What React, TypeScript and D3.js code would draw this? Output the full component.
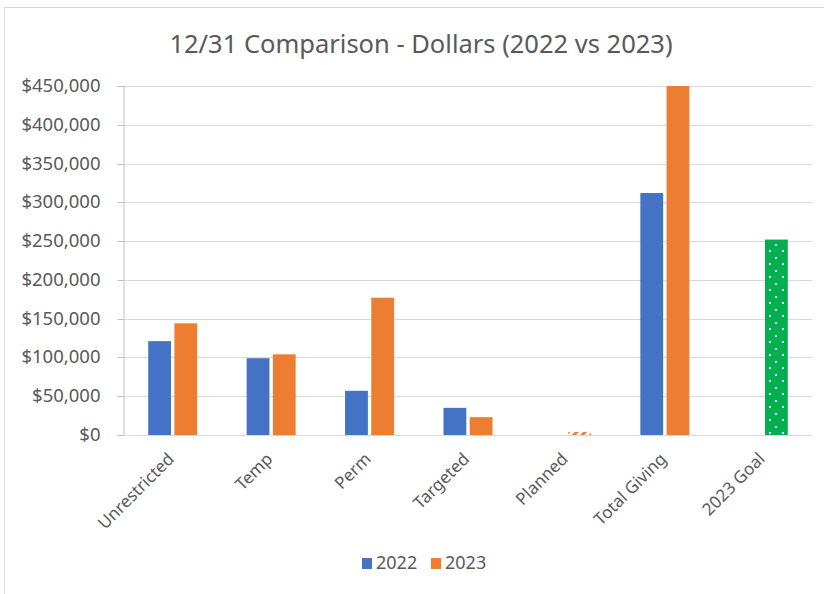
import * as d3 from "d3";
import { useEffect, useRef } from "react";

// data
const categories = ["Unrestricted", "Temp", "Perm", "Targeted", "Planned", "Total Giving", "2023 Goal"];
const values2022 = [121000, 99000, 57000, 35000, 0, 312000, 0];
const values2023 = [144000, 104000, 177000, 23000, 4000, 450000, 252000];
const seriesNames = ["2022", "2023"];
const yTicks = [0, 50000, 100000, 150000, 200000, 250000, 300000, 350000, 400000, 450000];

const App = () => {
    const chartRef = useRef<SVGSVGElement | null>(null);

    const width = 824;
    const height = 594;
    const margin = { top: 86, bottom: 159, left: 123, right: 12 };
    const boundsWidth = width - margin.left - margin.right;
    const boundsHeight = height - margin.top - margin.bottom;

    useEffect(() => {
        const svg = d3.select(chartRef.current);
        svg.selectAll("*").remove();

        const font = "'Noto Sans', 'Open Sans', sans-serif";
        const textColor = "#595959";
        const colors = ["#4472C4", "#ED7D31"];

        // patterns: hatched orange (Planned) and dotted green (goal)
        const defs = svg.append("defs");
        const hatch = defs.append("pattern")
            .attr("id", "hatch")
            .attr("patternUnits", "userSpaceOnUse")
            .attr("width", 6).attr("height", 6)
            .attr("patternTransform", "rotate(45)");
        hatch.append("rect").attr("width", 6).attr("height", 6).attr("fill", "#fff");
        hatch.append("rect").attr("width", 3).attr("height", 6).attr("fill", colors[1]);

        const dots = defs.append("pattern")
            .attr("id", "dots")
            .attr("patternUnits", "userSpaceOnUse")
            .attr("width", 13).attr("height", 13);
        dots.append("rect").attr("width", 13).attr("height", 13).attr("fill", "#00B050");
        dots.append("rect").attr("x", 2).attr("y", 2).attr("width", 2).attr("height", 2).attr("fill", "#fff");
        dots.append("rect").attr("x", 9).attr("y", 8).attr("width", 2).attr("height", 2).attr("fill", "#fff");

        // frame
        svg.append("rect").attr("width", width).attr("height", height).attr("fill", "#fff");
        svg.append("line").attr("x1", 4).attr("x2", width).attr("y1", 7.5).attr("y2", 7.5).attr("stroke", "#d9d9d9");
        svg.append("line").attr("x1", 4.5).attr("x2", 4.5).attr("y1", 7).attr("y2", height).attr("stroke", "#d9d9d9");

        // title
        svg.append("text")
            .attr("x", 421).attr("y", 53)
            .attr("text-anchor", "middle")
            .style("font-family", font)
            .style("font-size", "25.5px")
            .style("fill", textColor)
            .text("12/31 Comparison - Dollars (2022 vs 2023)");

        const scaleX = d3.scaleBand().domain(categories).range([0, boundsWidth]);
        const scaleY = d3.scaleLinear().domain([0, 450000]).range([boundsHeight, 0]);
        const inner = d3.scaleBand().domain(seriesNames).range([scaleX.bandwidth() / 2 - 24, scaleX.bandwidth() / 2 + 25]).paddingInner(0.13);

        const g = svg.append("g").attr("transform", `translate(${margin.left},${margin.top})`);

        // grid
        g.selectAll(".grid").data(yTicks).enter().append("line")
            .attr("x1", 0).attr("x2", boundsWidth)
            .attr("y1", d => Math.round(scaleY(d)) + 0.5).attr("y2", d => Math.round(scaleY(d)) + 0.5)
            .attr("stroke", "#d9d9d9").attr("stroke-width", 1);

        // y axis
        const yAxis = d3.axisLeft(scaleY).tickValues(yTicks).tickSize(6).tickPadding(17)
            .tickFormat(d => "$" + d3.format(",")(d as number));
        const ya = g.append("g").attr("transform", "translate(0.5,0)").call(yAxis);
        ya.select(".domain").attr("stroke", "#bfbfbf");
        ya.selectAll(".tick line").attr("stroke", "#bfbfbf");
        ya.selectAll("text").style("font-family", font).style("font-size", "18.5px").style("fill", textColor);
        ya.selectAll(".tick").attr("transform", d => `translate(0,${Math.round(scaleY(d as number)) + 0.5})`);

        // baseline
        g.append("line").attr("x1", 0).attr("x2", boundsWidth)
            .attr("y1", boundsHeight + 0.5).attr("y2", boundsHeight + 0.5)
            .attr("stroke", "#d9d9d9");

        // bars
        const rows = categories.map((c, i) => ({ c, v: [values2022[i], values2023[i]] }));
        const fillFor = (c: string, s: number) => {
            if (s === 1 && c === "Planned") return "url(#hatch)";
            if (s === 1 && c === "2023 Goal") return "url(#dots)";
            return colors[s];
        };
        seriesNames.forEach((name, s) => {
            g.selectAll(".bar-" + s).data(rows.filter(r => r.v[s] > 0)).enter().append("rect")
                .attr("class", "bar-" + s)
                .attr("x", d => (scaleX(d.c) ?? 0) + (inner(name) ?? 0))
                .attr("y", d => scaleY(d.v[s]))
                .attr("width", inner.bandwidth())
                .attr("height", d => boundsHeight - scaleY(d.v[s]))
                .attr("fill", d => fillFor(d.c, s));
        });

        // category labels
        g.selectAll(".xlab").data(categories).enter().append("text")
            .attr("transform", d => `translate(${(scaleX(d) ?? 0) + scaleX.bandwidth() / 2 + 3},${boundsHeight + 25}) rotate(-45)`)
            .attr("text-anchor", "end")
            .style("font-family", font)
            .style("font-size", "17px")
            .style("fill", textColor)
            .text(d => d);

        // legend
        const legend = svg.append("g").attr("transform", "translate(362,558)");
        seriesNames.forEach((name, i) => {
            const lg = legend.append("g").attr("transform", `translate(${i * 69},0)`);
            lg.append("rect").attr("width", 10).attr("height", 11).attr("fill", colors[i]);
            lg.append("text").attr("x", 14).attr("y", 11)
                .style("font-family", font).style("font-size", "18px").style("fill", textColor)
                .text(name);
        });
    }, []);

    return (
        <svg ref={chartRef} width={width} height={height}
            style={{ position: "absolute", left: 0, top: 0, display: "block" }}></svg>
    );
};

export default App;
